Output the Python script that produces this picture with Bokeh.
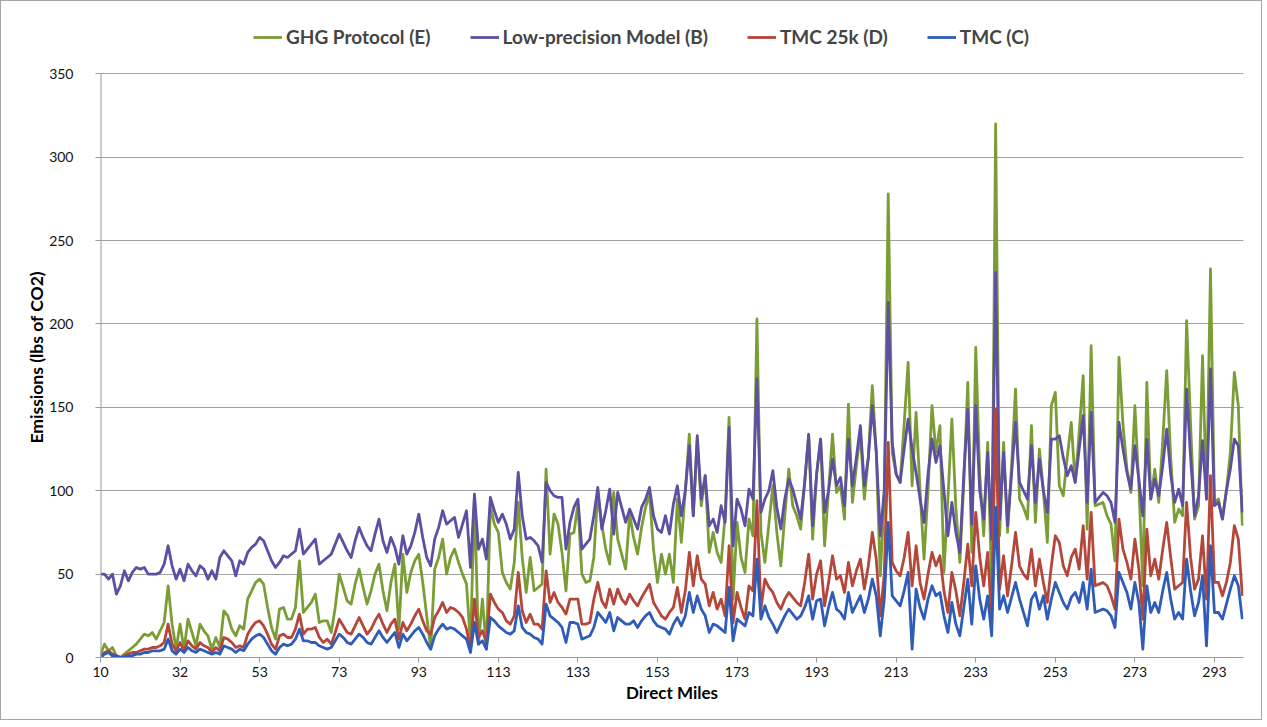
from bokeh.plotting import figure
from bokeh.models import Range1d, Legend, LegendItem, FixedTicker, Title
from bokeh.embed import file_html
from bokeh.resources import INLINE

# Category labels (Direct Miles) - one per data point
miles = [10, 12, 13] + list(range(15, 41)) + list(range(42, 301))

series_names = ["GHG Protocol (E)", "Low-precision Model (B)", "TMC 25k (D)", "TMC (C)"]
series_colors = ["#7A9E35", "#5E4FA2", "#B5473A", "#2E5CB8"]

ghg = [2, 8, 4, 6, 1, 0, 2, 4, 6, 8,
       11, 14, 13, 15, 11, 16, 21, 43, 20, 5,
       20, 5, 23, 15, 7, 20, 16, 13, 5, 12,
       6, 28, 25, 17, 13, 19, 17, 35, 40, 45,
       47, 44, 30, 18, 11, 29, 30, 23, 23, 30,
       58, 27, 30, 33, 38, 21, 22, 22, 15, 30,
       50, 42, 34, 32, 44, 53, 42, 32, 40, 50,
       56, 40, 28, 45, 56, 17, 62, 39, 51, 58,
       62, 45, 25, 5, 53, 60, 71, 50, 60, 65,
       57, 50, 44, 8, 96, 8, 35, 5, 91, 80,
       75, 51, 45, 41, 57, 93, 60, 39, 60, 40,
       42, 44, 113, 62, 86, 80, 63, 40, 74, 75,
       92, 50, 45, 46, 60, 99, 80, 65, 56, 99,
       71, 62, 53, 86, 72, 62, 78, 90, 98, 65,
       45, 62, 50, 62, 45, 95, 69, 100, 134, 85,
       131, 91, 109, 63, 75, 63, 57, 85, 144, 35,
       81, 60, 51, 83, 73, 203, 75, 57, 80, 103,
       75, 55, 85, 113, 91, 85, 77, 105, 133, 71,
       110, 131, 67, 100, 134, 99, 103, 83, 152, 93,
       115, 135, 95, 120, 163, 123, 49, 95, 278, 123,
       110, 105, 140, 177, 103, 147, 100, 59, 100, 151,
       123, 139, 51, 95, 143, 90, 57, 105, 165, 63,
       186, 110, 73, 129, 43, 320, 73, 129, 75, 115,
       161, 95, 90, 83, 139, 81, 125, 100, 69, 151,
       159, 103, 97, 120, 141, 105, 135, 169, 77, 187,
       91, 92, 93, 85, 80, 58, 180, 140, 113, 99,
       151, 103, 43, 165, 95, 113, 93, 130, 172, 120,
       81, 89, 85, 202, 140, 83, 91, 181, 95, 233,
       93, 95, 83, 100, 123, 171, 151, 79]

low = [50, 50, 47, 50, 38, 43, 52, 46, 51, 54,
       53, 54, 50, 50, 50, 51, 56, 67, 55, 47,
       53, 46, 56, 52, 49, 55, 53, 47, 52, 47,
       60, 64, 61, 58, 49, 58, 56, 63, 66, 68,
       72, 70, 64, 58, 54, 57, 61, 60, 62, 64,
       77, 62, 65, 68, 71, 56, 58, 60, 62, 68,
       74, 69, 64, 60, 70, 78, 72, 67, 64, 74,
       83, 70, 63, 72, 66, 56, 73, 62, 67, 75,
       86, 72, 60, 55, 71, 78, 88, 80, 82, 84,
       72, 80, 88, 54, 98, 65, 71, 59, 96, 88,
       81, 86, 80, 71, 77, 111, 85, 71, 72, 70,
       67, 57, 105, 100, 97, 96, 96, 65, 81, 90,
       95, 65, 68, 71, 85, 102, 77, 88, 101, 74,
       99, 90, 81, 89, 83, 77, 90, 95, 102, 85,
       77, 75, 85, 74, 92, 103, 85, 100, 127, 85,
       133, 95, 109, 79, 83, 75, 91, 81, 138, 67,
       95, 89, 79, 101, 95, 167, 87, 95, 100, 112,
       90, 77, 95, 107, 101, 92, 83, 105, 134, 79,
       110, 131, 87, 100, 119, 103, 108, 91, 131, 103,
       120, 139, 103, 120, 151, 123, 73, 100, 213, 129,
       110, 105, 125, 143, 125, 111, 95, 81, 110, 131,
       117, 127, 100, 73, 93, 75, 63, 110, 149, 80,
       151, 100, 83, 123, 71, 231, 83, 123, 79, 110,
       141, 105, 100, 95, 127, 93, 119, 100, 87, 131,
       131, 133, 120, 109, 115, 105, 125, 145, 93, 147,
       93, 96, 99, 97, 93, 81, 141, 125, 111, 101,
       127, 107, 85, 131, 95, 107, 97, 115, 137, 110,
       93, 101, 91, 161, 120, 85, 97, 130, 95, 173,
       91, 93, 83, 100, 113, 131, 127, 87]

tmc25 = [1, 3, 4, 2, 1, 0, 1, 2, 3, 3,
         4, 5, 5, 6, 6, 7, 9, 20, 8, 4,
         9, 4, 10, 7, 5, 9, 7, 6, 3, 6,
         4, 12, 11, 9, 6, 7, 6, 14, 18, 21,
         22, 19, 14, 8, 5, 13, 14, 12, 12, 17,
         26, 14, 17, 17, 18, 12, 9, 11, 8, 15,
         23, 19, 15, 14, 19, 24, 19, 14, 17, 22,
         26, 20, 15, 20, 23, 11, 21, 16, 20, 25,
         29, 22, 16, 14, 24, 28, 33, 27, 30, 29,
         27, 24, 17, 5, 35, 12, 16, 9, 38, 33,
         29, 27, 22, 20, 25, 51, 28, 21, 26, 20,
         20, 17, 52, 33, 39, 33, 30, 26, 35, 35,
         35, 20, 20, 21, 35, 45, 34, 30, 41, 32,
         41, 35, 32, 38, 34, 31, 36, 40, 44, 33,
         29, 25, 23, 27, 30, 42, 27, 40, 63, 43,
         61, 47, 44, 31, 39, 29, 35, 25, 67, 21,
         39, 30, 23, 43, 40, 94, 29, 47, 42, 39,
         33, 29, 35, 39, 36, 33, 31, 45, 62, 35,
         50, 58, 31, 45, 61, 47, 49, 39, 57, 43,
         52, 59, 41, 55, 75, 59, 25, 50, 129, 57,
         52, 49, 60, 75, 43, 67, 45, 35, 50, 63,
         55, 61, 40, 27, 51, 40, 25, 45, 68, 43,
         87, 60, 43, 63, 23, 149, 41, 61, 37, 55,
         75, 55, 50, 47, 65, 43, 59, 45, 33, 55,
         73, 69, 55, 49, 60, 65, 53, 79, 47, 87,
         43, 44, 45, 43, 37, 29, 83, 65, 57, 47,
         71, 53, 23, 77, 49, 59, 47, 65, 81, 60,
         41, 43, 45, 93, 60, 41, 47, 73, 35, 109,
         45, 45, 37, 45, 57, 79, 71, 37]

tmc = [0, 2, 3, 1, 1, 0, 0, 1, 1, 2,
       2, 3, 3, 4, 4, 4, 5, 11, 4, 2,
       5, 3, 6, 4, 3, 5, 4, 3, 2, 3,
       2, 7, 6, 5, 3, 5, 4, 8, 11, 13,
       14, 12, 8, 4, 2, 6, 8, 7, 8, 11,
       17, 10, 10, 9, 9, 7, 6, 5, 6, 10,
       14, 12, 9, 8, 11, 14, 12, 9, 8, 12,
       16, 12, 9, 12, 15, 6, 14, 10, 13, 16,
       18, 14, 9, 5, 13, 17, 20, 17, 18, 17,
       15, 13, 11, 3, 21, 8, 10, 5, 24, 22,
       19, 17, 15, 14, 16, 31, 18, 15, 14, 12,
       11, 8, 32, 25, 23, 21, 18, 9, 21, 21,
       20, 11, 12, 13, 18, 27, 24, 21, 27, 16,
       24, 22, 20, 20, 22, 18, 22, 25, 27, 22,
       19, 18, 17, 14, 20, 24, 19, 25, 39, 27,
       37, 29, 25, 15, 20, 19, 17, 15, 42, 10,
       23, 21, 19, 27, 25, 59, 23, 31, 24, 20,
       15, 20, 25, 29, 26, 23, 25, 30, 37, 23,
       34, 35, 19, 30, 39, 29, 27, 23, 39, 27,
       32, 37, 27, 35, 47, 37, 13, 35, 81, 37,
       34, 31, 40, 51, 5, 41, 30, 23, 35, 43,
       37, 39, 25, 15, 33, 20, 13, 30, 47, 20,
       55, 35, 23, 37, 13, 90, 29, 37, 27, 36,
       45, 35, 27, 19, 35, 39, 29, 37, 23, 35,
       45, 39, 33, 29, 36, 39, 33, 45, 29, 53,
       27, 28, 29, 28, 25, 18, 51, 45, 39, 29,
       45, 33, 5, 43, 27, 33, 27, 40, 51, 35,
       23, 27, 23, 59, 40, 25, 33, 49, 7, 67,
       27, 27, 23, 32, 41, 49, 43, 23]

y_ticks = [0, 50, 100, 150, 200, 250, 300, 350]
label_every = 20

FONT = "Lato"
AXIS_GRAY = "#9a9a9a"
n = len(miles)
xs = list(range(n))

# frame extends above the 350 gridline so that the legend can sit inside it
p = figure(width=1262, height=720, output_backend="svg", toolbar_location=None,
           x_range=Range1d(0, n - 0.7), y_range=Range1d(0, 384.4),
           min_border_left=99, min_border_right=20, min_border_top=15, min_border_bottom=64,
           background_fill_color="white", border_fill_color="white")
p.outline_line_color = None
p.styles = {"border": "1px solid #a6a6a6"}

renderers = []
for vals, col in zip([ghg, low, tmc25, tmc], series_colors):
    r = p.line(xs, vals, line_color=col, line_width=2.8, line_join="round")
    renderers.append(r)

# vertical axis line only from 0 to the top tick
p.segment(x0=[0], y0=[y_ticks[0]], x1=[0], y1=[y_ticks[-1]], line_color=AXIS_GRAY, line_width=2)

p.xgrid.visible = False
p.ygrid.grid_line_color = "#a0a0a0"
p.ygrid.grid_line_width = 1
p.yaxis.ticker = FixedTicker(ticks=y_ticks)
p.xaxis.ticker = FixedTicker(ticks=list(range(0, n, label_every)))
p.xaxis.major_label_overrides = {i: str(miles[i]) for i in range(0, n, label_every)}
for ax in (p.xaxis, p.yaxis):
    ax.axis_line_color = AXIS_GRAY
    ax.major_tick_line_color = AXIS_GRAY
    ax.minor_tick_line_color = None
    ax.major_tick_in = 0
    ax.major_tick_out = 5
    ax.major_label_text_font = FONT
    ax.major_label_text_font_size = "14px"
    ax.major_label_text_color = "#111111"
    ax.axis_label_text_font = FONT
    ax.axis_label_text_font_size = "17px"
    ax.axis_label_text_font_style = "bold"
    ax.axis_label_text_color = "#000000"
p.yaxis.axis_line_color = None
p.yaxis.major_label_standoff = 22
p.xaxis.major_label_standoff = 4
p.xaxis.axis_label = "Direct Miles"
p.xaxis.axis_label_standoff = 2

ytitle = Title(text="Emissions (lbs of CO2)", align="left", offset=214, standoff=0,
               text_font=FONT, text_font_size="17.5px", text_font_style="bold",
               text_color="#000000")
p.add_layout(ytitle, "left")

legend = Legend(items=[LegendItem(label=nm, renderers=[r]) for nm, r in zip(series_names, renderers)],
                orientation="horizontal", location=(153, 609),
                label_text_font=FONT, label_text_font_size="19px", label_text_font_style="bold",
                glyph_width=29, glyph_height=22, label_standoff=4, spacing=39,
                padding=0, margin=0, border_line_color=None, background_fill_alpha=0)
p.add_layout(legend)

open("out.html", "w").write(file_html(p, INLINE))
